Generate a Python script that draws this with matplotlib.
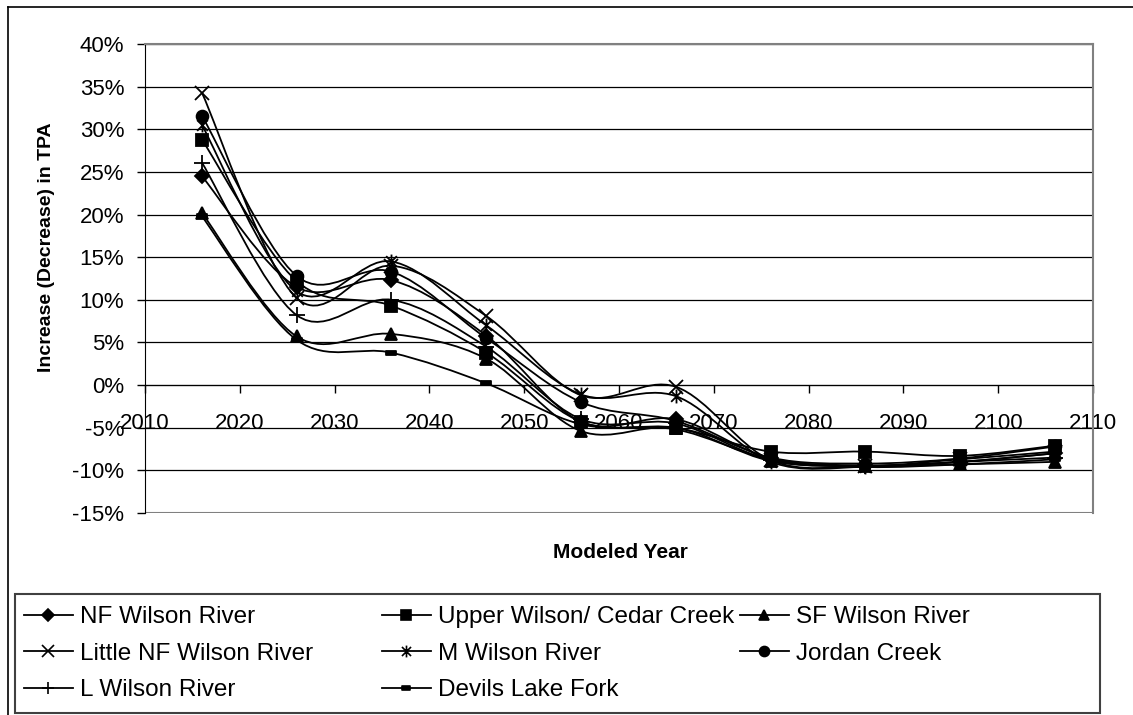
import numpy as np
import matplotlib
matplotlib.use("Agg")
import matplotlib.pyplot as plt
from matplotlib.path import Path
from matplotlib.patches import PathPatch, Rectangle
from matplotlib.lines import Line2D
from matplotlib.ticker import FuncFormatter

plt.rcParams['font.family'] = ['Liberation Sans', 'DejaVu Sans']

# data (percent change in TPA)
years = [2016, 2026, 2036, 2046, 2056, 2066, 2076, 2086, 2096, 2106]

nf_wilson = [24.5, 11.5, 12.3, 5.8, -4.3, -4.0, -8.6, -9.4, -9.0, -8.0]
upper_wilson = [28.8, 12.2, 9.3, 3.8, -4.3, -5.0, -7.8, -7.8, -8.3, -7.1]
sf_wilson = [20.2, 5.7, 6.0, 3.1, -5.4, -5.0, -8.9, -9.5, -9.3, -9.0]
little_nf = [34.3, 10.2, 14.0, 8.1, -1.2, -0.2, -8.8, -9.5, -8.7, -7.8]
m_wilson = [30.5, 11.0, 14.5, 7.0, -1.1, -1.3, -9.0, -9.6, -9.0, -8.0]
jordan = [31.6, 12.8, 13.3, 5.5, -2.0, -4.2, -8.5, -9.2, -8.6, -7.2]
l_wilson = [26.1, 8.2, 10.0, 4.5, -4.0, -4.5, -8.8, -9.5, -9.0, -8.5]
devils = [19.8, 5.3, 3.8, 0.2, -4.6, -5.2, -8.7, -9.6, -9.3, -8.7]

names = ["NF Wilson River", "Upper Wilson/ Cedar Creek", "SF Wilson River",
         "Little NF Wilson River", "M Wilson River", "Jordan Creek",
         "L Wilson River", "Devils Lake Fork"]
series = [nf_wilson, upper_wilson, sf_wilson, little_nf, m_wilson, jordan,
          l_wilson, devils]

# excel-like markers
asterisk = Path([(-1, -1), (1, 1), (-1, 1), (1, -1), (0, -1.3), (0, 1.3)],
                [Path.MOVETO, Path.LINETO, Path.MOVETO, Path.LINETO,
                 Path.MOVETO, Path.LINETO])
dash = Path([(-1, -0.45), (1, -0.45), (1, 0.45), (-1, 0.45), (-1, -0.45)],
            [Path.MOVETO, Path.LINETO, Path.LINETO, Path.LINETO, Path.CLOSEPOLY])
markers = ['D', 's', '^', 'x', asterisk, 'o', '+', dash]
msizes = [7, 8, 8, 10, 10, 8.5, 11, 7]


def smooth_path(x, y):
    # Catmull-Rom style bezier, like Excel's smoothed line
    n = len(x)
    verts = [(x[0], y[0])]
    codes = [Path.MOVETO]
    for i in range(n - 1):
        a = max(i - 1, 0)
        b = min(i + 2, n - 1)
        c1 = (x[i] + (x[i + 1] - x[a]) / 6, y[i] + (y[i + 1] - y[a]) / 6)
        c2 = (x[i + 1] - (x[b] - x[i]) / 6, y[i + 1] - (y[b] - y[i]) / 6)
        verts += [c1, c2, (x[i + 1], y[i + 1])]
        codes += [Path.CURVE4] * 3
    return Path(verts, codes)


W, H = 1133, 715
fig = plt.figure(figsize=(W / 100, H / 100), dpi=100)
ax = fig.add_axes([145 / W, 1 - 513 / H, (1093 - 145) / W, (513 - 44) / H])

handles = []
for name, vals, mk, ms in zip(names, series, markers, msizes):
    ax.add_patch(PathPatch(smooth_path(years, vals), fill=False,
                           ec='black', lw=1.3, zorder=3))
    ax.plot(years, vals, linestyle='none', marker=mk, ms=ms, color='black',
            mec='black', mfc='black', mew=1.3, zorder=4)
    handles.append(Line2D([], [], color='black', lw=1.3, marker=mk,
                          ms=ms * 0.85, mec='black', mfc='black', mew=1.2,
                          label=name))

ax.set_xlim(2010, 2110)
ax.set_ylim(-15, 40)
ax.set_xticks(np.arange(2010, 2111, 10))
ax.set_yticks(np.arange(-15, 41, 5))
ax.yaxis.set_major_formatter(FuncFormatter(lambda v, p: f"{v:.0f}%"))
ax.grid(axis='y', color='black', lw=0.9)
ax.set_axisbelow(True)

ax.spines['bottom'].set_position(('data', 0))
ax.spines['bottom'].set_color('black')
ax.spines['left'].set_color('black')
for s in ['top', 'right']:
    ax.spines[s].set_color('#808080')
    ax.spines[s].set_linewidth(1.5)
ax.axhline(-15, color='#808080', lw=1.5, zorder=2)

ax.tick_params(axis='both', direction='out', length=6, width=1,
               labelsize=16, colors='black')
ax.tick_params(axis='x', pad=14)
ax.tick_params(axis='y', pad=9)

ax.set_ylabel("Increase (Decrease) in TPA", fontsize=14, fontweight='bold')
ax.yaxis.set_label_coords(-0.095, 0.567)
fig.text(620 / W, 1 - 552 / H, "Modeled Year", fontsize=15,
         fontweight='bold', ha='center', va='center')

# outer chart border (cropped on right and bottom)
fig.add_artist(Line2D([8 / W, 1.0], [1 - 7 / H, 1 - 7 / H],
                      transform=fig.transFigure, color='black', lw=1.2))
fig.add_artist(Line2D([8 / W, 8 / W], [0, 1 - 7 / H],
                      transform=fig.transFigure, color='black', lw=1.2))

# legend box
fig.add_artist(Rectangle((15 / W, 1 - 713 / H), (1100 - 15) / W, (713 - 594) / H,
                         transform=fig.transFigure, fill=False,
                         ec='#404040', lw=1.5))
columns = [[0, 3, 6], [1, 4, 7], [2, 5]]
col_x = [24, 382, 740]
for idx, x0 in zip(columns, col_x):
    fig.legend([handles[i] for i in idx], [names[i] for i in idx],
               loc='upper left', bbox_to_anchor=(x0 / W, 1 - 606 / H),
               frameon=False, fontsize=17.5, handlelength=2.0,
               handletextpad=0.3, labelspacing=0.6, borderpad=0,
               borderaxespad=0)

fig.savefig("out.png", dpi=100)
